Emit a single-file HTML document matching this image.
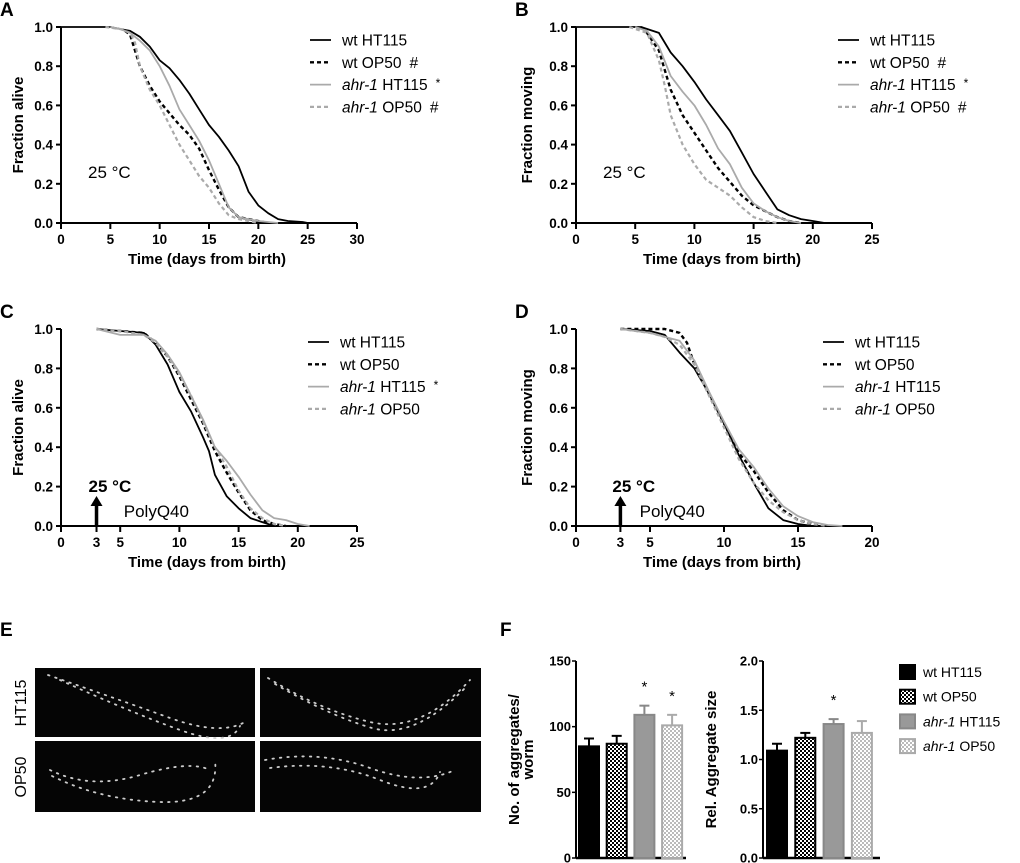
<!DOCTYPE html>
<html><head><meta charset="utf-8">
<style>
html,body{margin:0;padding:0;background:#fff;}
svg{display:block;font-family:"Liberation Sans",Arial,sans-serif;}
</style></head>
<body>
<svg id="fig" width="1020" height="863" viewBox="0 0 1020 863" xmlns="http://www.w3.org/2000/svg">
<defs>
<pattern id="checkDark" width="4" height="4" patternUnits="userSpaceOnUse">
<rect width="4" height="4" fill="#000"/><rect width="2" height="2" fill="#fff"/><rect x="2" y="2" width="2" height="2" fill="#fff"/>
</pattern>
<pattern id="checkLight" width="4" height="4" patternUnits="userSpaceOnUse">
<rect width="4" height="4" fill="#fff"/><rect width="2" height="2" fill="#bbb"/><rect x="2" y="2" width="2" height="2" fill="#bbb"/>
</pattern>
</defs>
</svg>
<script>
// ---------- Survival data ----------
const seriesNames = ["wt HT115","wt OP50","ahr-1 HT115","ahr-1 OP50"];
const A_wtHT_t=[0,5,6,7,8,9,10,11,12,13,14,15,16,17,18,19,20,21,22,23,24.5,25];
const A_wtHT_v=[1,1,0.99,0.98,0.95,0.9,0.83,0.79,0.73,0.66,0.58,0.5,0.44,0.37,0.29,0.16,0.09,0.05,0.02,0.01,0.005,0];
const A_wtOP_t=[6.5,7,8,9,10,11,12,13,14,15,16,17,18,19,20,21];
const A_wtOP_v=[0.98,0.96,0.8,0.7,0.62,0.56,0.5,0.45,0.38,0.27,0.17,0.08,0.03,0.02,0.01,0];
const A_ahHT_t=[5,6,7,8,9,10,11,12,13,14,15,16,17,18,19,20,21,22];
const A_ahHT_v=[1,0.99,0.97,0.93,0.88,0.8,0.7,0.58,0.5,0.42,0.32,0.2,0.08,0.03,0.02,0.01,0.005,0];
const A_ahOP_t=[4.5,6,7,7.5,8,9,10,11,12,13,14,15,16,17,18,19,20];
const A_ahOP_v=[1,0.99,0.97,0.92,0.8,0.68,0.6,0.5,0.4,0.32,0.24,0.18,0.1,0.04,0.02,0.01,0];

const B_wtHT_t=[0,5.5,7,8,9,10,11,12,13,14,15,16,17,18,19,20,21];
const B_wtHT_v=[1,1,0.97,0.87,0.8,0.72,0.63,0.55,0.47,0.36,0.25,0.16,0.07,0.04,0.02,0.01,0];
const B_wtOP_t=[5.5,6,7,7.5,8,9,10,11,12,13,14,15,16,17,18,19];
const B_wtOP_v=[1,0.97,0.88,0.78,0.68,0.55,0.46,0.37,0.28,0.21,0.14,0.09,0.06,0.03,0.01,0];
const B_ahHT_t=[5,6,7,8,9,10,11,12,13,14,15,16,17,18,19];
const B_ahHT_v=[1,0.98,0.9,0.75,0.67,0.6,0.5,0.38,0.3,0.18,0.1,0.06,0.03,0.01,0];
const B_ahOP_t=[4.5,6,7,7.5,8,9,10,11,12,13,14,15,16,17];
const B_ahOP_v=[1,0.97,0.83,0.7,0.55,0.4,0.3,0.22,0.18,0.14,0.08,0.03,0.01,0];

const C_wtHT_t=[3,5,7,8,9,10,11,12,12.5,13,14,15,16,17,18];
const C_wtHT_v=[1,0.99,0.98,0.92,0.82,0.68,0.58,0.45,0.38,0.26,0.15,0.09,0.04,0.02,0];
const C_wtOP_t=[3,5,7,8,9,10,11,12,13,14,15,16,17,18,19];
const C_wtOP_v=[1,0.99,0.98,0.93,0.86,0.76,0.64,0.52,0.38,0.27,0.17,0.08,0.03,0.01,0];
const C_ahHT_t=[3,5,7,8,9,10,11,12,13,14,15,16,17,18,19,20,21];
const C_ahHT_v=[1,0.97,0.97,0.94,0.87,0.78,0.66,0.54,0.4,0.33,0.25,0.16,0.08,0.04,0.03,0.01,0];
const C_ahOP_t=[3,5,7,8,9,10,11,12,13,14,15,16,17,18,19];
const C_ahOP_v=[1,0.99,0.97,0.93,0.86,0.77,0.66,0.53,0.4,0.3,0.18,0.09,0.04,0.01,0];

const D_wtHT_t=[3,5,6,7,8,9,10,11,12,13,14,15,16];
const D_wtHT_v=[1,0.99,0.97,0.88,0.8,0.67,0.52,0.36,0.22,0.09,0.03,0.01,0];
const D_wtOP_t=[3,6,7,7.5,8,9,10,11,12,13,14,15,16,17];
const D_wtOP_v=[1,1,0.98,0.93,0.82,0.67,0.52,0.37,0.28,0.17,0.08,0.03,0.01,0];
const D_ahHT_t=[3,5,6,7,8,9,10,11,12,13,14,15,16,17,18];
const D_ahHT_v=[1,0.98,0.96,0.94,0.84,0.68,0.53,0.39,0.3,0.19,0.1,0.05,0.02,0.005,0];
const D_ahOP_t=[3,5,6,7,8,9,10,11,12,13,14,15,16,17];
const D_ahOP_v=[1,0.98,0.96,0.92,0.82,0.66,0.5,0.34,0.22,0.13,0.07,0.03,0.01,0];

// ---------- Bar data ----------
const barCats=["wt HT115","wt OP50","ahr-1 HT115","ahr-1 OP50"];
const aggCount=[85,87,109,101];
const aggCountErr=[6,6,7,8];
const aggCountTicks=[0,50,100,150];
const aggSize=[1.09,1.22,1.36,1.27];
const aggSizeErr=[0.07,0.05,0.05,0.12];
const aggSizeTicks=["0.0","0.5","1.0","1.5","2.0"];

const NS="http://www.w3.org/2000/svg";
const svg=document.getElementById('fig');
function el(tag,attrs,parent,text){
  const e=document.createElementNS(NS,tag);
  for(const k in attrs) e.setAttribute(k,attrs[k]);
  if(text!==undefined) e.textContent=text;
  (parent||svg).appendChild(e);
  return e;
}
const styles=[
 {stroke:"#000",w:1.8,dash:null},
 {stroke:"#000",w:2.4,dash:"4 3"},
 {stroke:"#aaa",w:1.8,dash:null},
 {stroke:"#aaa",w:2.2,dash:"4 3"}
];

function panel(cfg){
  const g=el('g',{});
  
  
  const sx=v=>cfg.x0+(v/cfg.xmax)*(cfg.x1-cfg.x0);
  const sy=v=>cfg.y0+(1-v)*(cfg.y1-cfg.y0);
  const L=el('text',{x:cfg.lx,y:cfg.ly,'font-size':19,'font-weight':'bold'},g,cfg.letter);
  
  
  const ya=el('line',{x1:cfg.x0,y1:sy(1),x2:cfg.x0,y2:sy(0),stroke:'#000','stroke-width':2},g);
  
  
  const xa=el('line',{x1:cfg.x0-5,y1:sy(0),x2:cfg.x1,y2:sy(0),stroke:'#000','stroke-width':2},g);
  
  
  for(let v=0;v<=1.0001;v+=0.2){
    el('line',{x1:cfg.x0-5,y1:sy(v),x2:cfg.x0,y2:sy(v),stroke:'#000','stroke-width':2},g);
    const t=el('text',{x:cfg.x0-8,y:sy(v)+5,'font-size':13.5,'font-weight':'bold','text-anchor':'end'},g,v.toFixed(1));
    
    
  }
  cfg.xticks.forEach(v=>{
    el('line',{x1:sx(v),y1:sy(0),x2:sx(v),y2:sy(0)+6,stroke:'#000','stroke-width':2},g);
    const t=el('text',{x:sx(v),y:sy(0)+21,'font-size':13.5,'font-weight':'bold','text-anchor':'middle'},g,String(v));
    
    
  });
  const xt=el('text',{x:(cfg.x0+cfg.x1)/2-2,y:sy(0)+41,'font-size':15,'font-weight':'bold','text-anchor':'middle'},g,'Time (days from birth)');
  
  
  const yc=(sy(0)+sy(1))/2;
  const yt=el('text',{x:cfg.ytx,y:yc,'font-size':15,'font-weight':'bold','text-anchor':'middle',transform:`rotate(-90 ${cfg.ytx} ${yc})`},g,cfg.ytitle);
  
  
  cfg.series.forEach((s,i)=>{
    const pts=s.t.map((t,j)=>sx(t).toFixed(1)+','+sy(s.v[j]).toFixed(1)).join(' ');
    const st=styles[i];
    const p=el('polyline',{points:pts,fill:'none',stroke:st.stroke,'stroke-width':st.w,'stroke-linejoin':'round'},g);
    if(st.dash) p.setAttribute('stroke-dasharray',st.dash);
    
    
  });
  cfg.legend.forEach((lab,i)=>{
    const y=cfg.legY+i*22.3;
    const st=styles[i];
    const lg=el('g',{},g);
    
    
    const ln=el('line',{x1:cfg.legX,y1:y,x2:cfg.legX+21,y2:y,stroke:st.stroke,'stroke-width':st.w},lg);
    if(st.dash) ln.setAttribute('stroke-dasharray',st.dash);
    const tx=el('text',{x:cfg.legX+32,y:y+5.5,'font-size':15.5},lg);
    if(i>=2){ el('tspan',{'font-style':'italic'},tx,'ahr-1'); el('tspan',{},tx,' '+lab[0]); }
    else el('tspan',{},tx,'wt '+lab[0]);
    if(lab[1]) el('tspan',{'font-size':lab[1]==='*'?12:15.5,dx:8,dy:lab[1]==='*'?-3:0},tx,lab[1]);
  });
  if(cfg.arrow){
    const ax=sx(3);
    const ar=el('g',{},g);
    
    
    el('line',{x1:ax,y1:sy(0),x2:ax,y2:sy(0)-22,stroke:'#000','stroke-width':3.5},ar);
    el('polygon',{points:`${ax-6},${sy(0)-20} ${ax+6},${sy(0)-20} ${ax},${sy(0)-30}`,fill:'#000'},ar);
    const t1=el('text',{x:ax-8,y:sy(0)-34,'font-size':17,'font-weight':'bold'},g,'25 °C');
    
    
    const t2=el('text',{x:sx(cfg.pqx),y:sy(0)-9,'font-size':17},g,'PolyQ40');
    
    
  } else {
    const t1=el('text',{x:cfg.x0+27,y:sy(0)-45,'font-size':17},g,'25 °C');
    
    
  }
}

panel({name:'panel-a-survival',letter:'A',lx:0,ly:16,x0:61,x1:357,y0:27,y1:223,xmax:30,xticks:[0,5,10,15,20,25,30],
  ytitle:'Fraction  alive',ytx:23,legX:310,legY:40,
  legend:[['HT115',''],['OP50','#'],['HT115','*'],['OP50','#']],
  series:[{t:A_wtHT_t,v:A_wtHT_v},{t:A_wtOP_t,v:A_wtOP_v},{t:A_ahHT_t,v:A_ahHT_v},{t:A_ahOP_t,v:A_ahOP_v}]});
panel({name:'panel-b-motility',letter:'B',lx:515,ly:16,x0:576,x1:872,y0:27,y1:223,xmax:25,xticks:[0,5,10,15,20,25],
  ytitle:'Fraction  moving',ytx:532,legX:838,legY:40,
  legend:[['HT115',''],['OP50','#'],['HT115','*'],['OP50','#']],
  series:[{t:B_wtHT_t,v:B_wtHT_v},{t:B_wtOP_t,v:B_wtOP_v},{t:B_ahHT_t,v:B_ahHT_v},{t:B_ahOP_t,v:B_ahOP_v}]});
panel({name:'panel-c-polyq-survival',letter:'C',lx:0,ly:318,x0:61,x1:357,y0:329,y1:526,xmax:25,xticks:[0,3,5,10,15,20,25],
  ytitle:'Fraction  alive',ytx:23,legX:308,legY:342,arrow:true,pqx:5.3,
  legend:[['HT115',''],['OP50',''],['HT115','*'],['OP50','']],
  series:[{t:C_wtHT_t,v:C_wtHT_v},{t:C_wtOP_t,v:C_wtOP_v},{t:C_ahHT_t,v:C_ahHT_v},{t:C_ahOP_t,v:C_ahOP_v}]});
panel({name:'panel-d-polyq-motility',letter:'D',lx:515,ly:318,x0:576,x1:872,y0:329,y1:526,xmax:20,xticks:[0,3,5,10,15,20],
  ytitle:'Fraction  moving',ytx:532,legX:823,legY:342,arrow:true,pqx:4.3,
  legend:[['HT115',''],['OP50',''],['HT115',''],['OP50','']],
  series:[{t:D_wtHT_t,v:D_wtHT_v},{t:D_wtOP_t,v:D_wtOP_v},{t:D_ahHT_t,v:D_ahHT_v},{t:D_ahOP_t,v:D_ahOP_v}]});

// ---------- Panel E ----------
(function(){
  const g=el('g',{});
  
  
  const L=el('text',{x:0,y:636,'font-size':19,'font-weight':'bold'},g,'E');
  
  
  const boxes=[[35,668,220,69],[260,668,221,69],[35,741,220,71],[260,741,221,71]];
  const worms=[
    "M48,675 Q120,700 170,718 T245,722 M60,680 Q130,712 180,730 T240,726",
    "M268,678 Q320,710 370,722 T470,680 M275,684 Q330,716 372,728 T465,688",
    "M50,770 Q90,790 140,775 T210,770 M52,776 Q100,800 160,802 T215,760",
    "M265,760 Q320,750 370,768 T455,770 M270,768 Q330,760 380,780 T440,772"
  ];
  boxes.forEach((b,i)=>{
    const r=el('rect',{x:b[0],y:b[1],width:b[2],height:b[3],fill:'#050505'},g);
    
    
    el('path',{d:worms[i],fill:'none',stroke:'#ccc','stroke-width':1.8,'stroke-dasharray':'1.5 6','stroke-linecap':'round'},g);
  });
  const t1=el('text',{x:26,y:703,'font-size':16,'text-anchor':'middle',transform:'rotate(-90 26 703)'},g,'HT115');
  
  
  const t2=el('text',{x:26,y:777,'font-size':16,'text-anchor':'middle',transform:'rotate(-90 26 777)'},g,'OP50');
  
  
})();

// ---------- Panel F ----------
const barFills=['#000','url(#checkDark)','#999','url(#checkLight)'];
const barStrokes=['#000','#000','#888','#aaa'];
function barChart(cfg){
  const g=el('g',{});
  
  
  const sy=v=>cfg.yb-(v/cfg.ymax)*(cfg.yb-cfg.yt);
  el('line',{x1:cfg.ax,y1:cfg.yt,x2:cfg.ax,y2:cfg.yb,stroke:'#000','stroke-width':2},g);
  el('line',{x1:cfg.ax,y1:cfg.yb,x2:cfg.xend,y2:cfg.yb,stroke:'#000','stroke-width':2.5},g);
  cfg.ticks.forEach(tk=>{
    const v=parseFloat(tk);
    el('line',{x1:cfg.ax-4,y1:sy(v),x2:cfg.ax,y2:sy(v),stroke:'#000','stroke-width':1.5},g);
    const t=el('text',{x:cfg.ax-5,y:sy(v)+4.5,'font-size':13,'font-weight':'bold','text-anchor':'end'},g,String(tk));
    
    
  });
  cfg.vals.forEach((v,i)=>{
    const x=cfg.bx+i*cfg.step;
    const e=cfg.errs[i];
    el('line',{x1:x+cfg.bw/2,y1:sy(v),x2:x+cfg.bw/2,y2:sy(v+e),stroke:barStrokes[i],'stroke-width':2},g);
    el('line',{x1:x+cfg.bw/2-5,y1:sy(v+e),x2:x+cfg.bw/2+5,y2:sy(v+e),stroke:barStrokes[i],'stroke-width':2},g);
    const r=el('rect',{x:x,y:sy(v),width:cfg.bw,height:cfg.yb-sy(v),fill:barFills[i],stroke:barStrokes[i],'stroke-width':2},g);
    
    
    if(cfg.sig[i]){
      const s=el('text',{x:x+cfg.bw/2,y:sy(v+e)-14,'font-size':15,'text-anchor':'middle'},g,'*');
      
      
    }
  });
  const yc=(cfg.yt+cfg.yb)/2;
  cfg.title.forEach((line,k)=>{
    const x=cfg.tx+k*14;
    const t=el('text',{x:x,y:yc,'font-size':15,'font-weight':'bold','text-anchor':'middle',transform:`rotate(-90 ${x} ${yc})`},g,line);
    
    
  });
}
(function(){
  const L=el('text',{x:500,y:636,'font-size':19,'font-weight':'bold'},svg,'F');
  
  
})();
barChart({name:'aggregate-count-chart',ax:576,yt:661,yb:858,ymax:150,xend:686,bx:579,bw:20,step:27.7,
  vals:aggCount,errs:aggCountErr,ticks:aggCountTicks,sig:[0,0,1,1],title:['No. of aggregates/','worm'],tx:519});
barChart({name:'aggregate-size-chart',ax:763,yt:661,yb:858,ymax:2.0,xend:880,bx:767,bw:20,step:28.3,
  vals:aggSize,errs:aggSizeErr,ticks:aggSizeTicks,sig:[0,0,1,0],title:['Rel. Aggregate size'],tx:716});

(function(){
  const g=el('g',{});
  
  
  barCats.forEach((c,i)=>{
    const y=665+i*24.7;
    const lg=el('g',{},g);
    
    
    el('rect',{x:900,y:y,width:15,height:14,fill:barFills[i],stroke:barStrokes[i],'stroke-width':2},lg);
    const tx=el('text',{x:923,y:y+12,'font-size':14},lg);
    if(i>=2){ el('tspan',{'font-style':'italic'},tx,'ahr-1'); el('tspan',{},tx,' '+c.split(' ')[1]); }
    else tx.textContent=c;
  });
})();
</script>
</body></html>
